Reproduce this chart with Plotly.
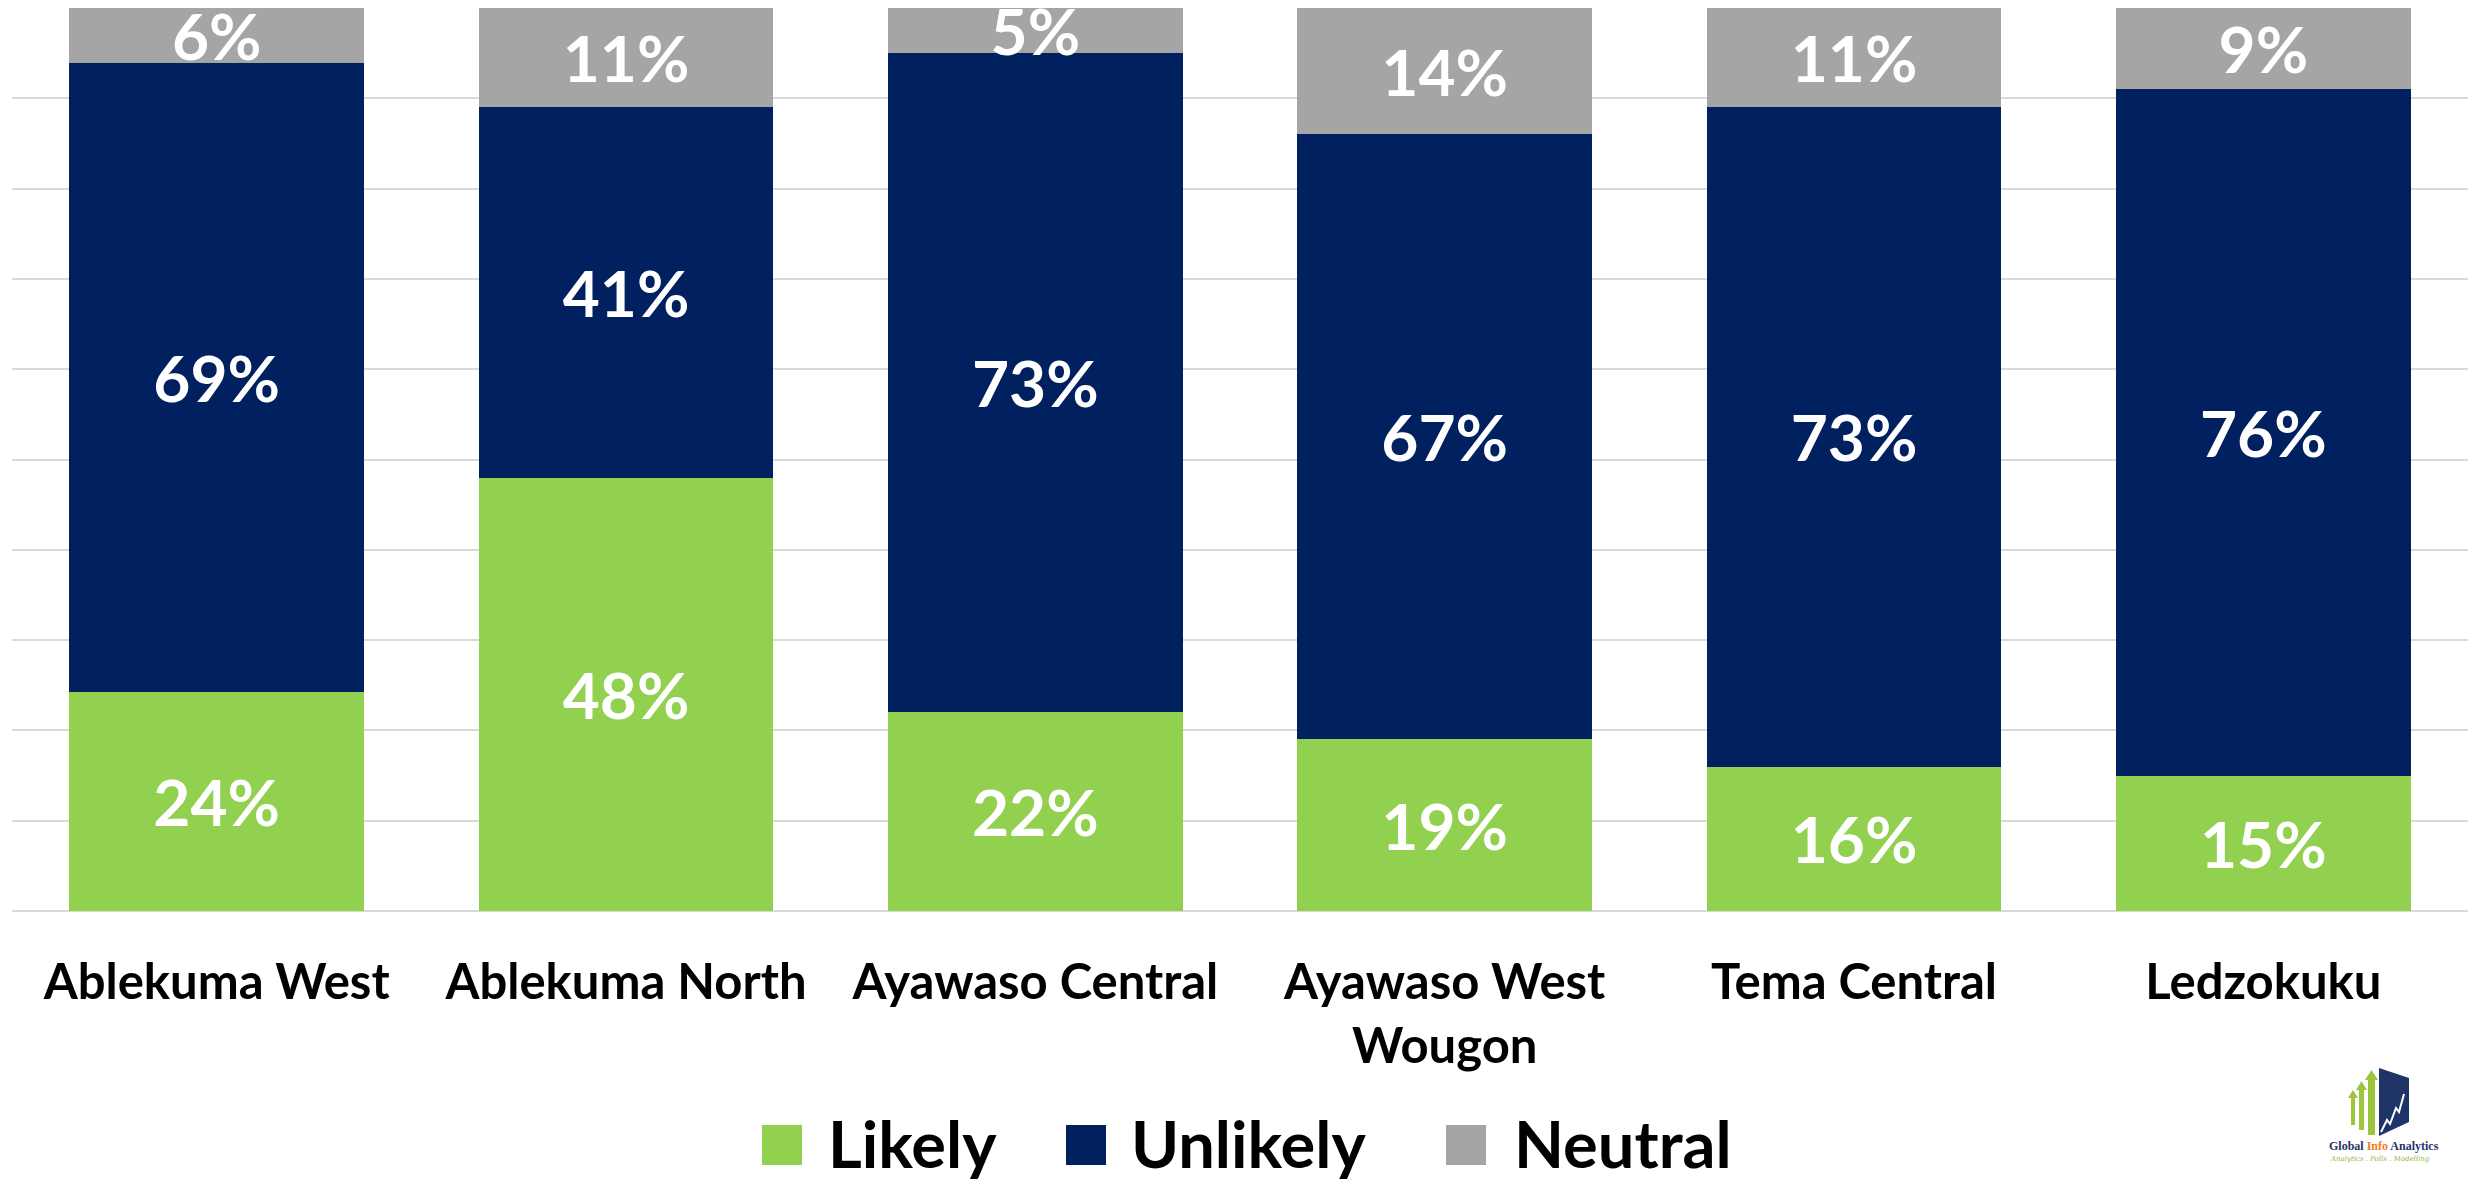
import plotly.graph_objects as go

categories = ["Ablekuma West", "Ablekuma North", "Ayawaso Central",
              "Ayawaso West<br>Wougon", "Tema Central", "Ledzokuku"]
likely = [24, 48, 22, 19, 16, 15]
unlikely = [69, 41, 73, 67, 73, 76]
neutral = [6, 11, 5, 14, 11, 9]
series_names = ["Likely", "Unlikely", "Neutral"]
colors = ["#92D050", "#002060", "#A5A5A5"]

W, H = 2468, 1179
ML, MR, MT, MB = 12, 0, 8, 268
PW, PH = W - ML - MR, H - MT - MB


def px(x):
    return (x - ML) / PW


def py(y):
    return (H - MB - y) / PH


fig = go.Figure()
for name, vals, col in zip(series_names, [likely, unlikely, neutral], colors):
    fig.add_trace(go.Bar(
        x=categories, y=vals, name=name, marker=dict(color=col, line=dict(width=0)),
        text=[f"{v}%" for v in vals], texttemplate="%{text}",
        textposition="inside", insidetextanchor="middle", constraintext="none",
        textangle=0,
        textfont=dict(family="Lato", size=64, color="white", weight=700),
        showlegend=False, hoverinfo="skip", cliponaxis=False,
    ))

shapes = []
annotations = []

# manual legend
legend_items = [(762, 826), (1066, 1129), (1446, 1512)]
for (sx, tx), name, col in zip(legend_items, series_names, colors):
    shapes.append(dict(type="rect", xref="paper", yref="paper",
                       x0=px(sx), x1=px(sx + 40), y0=py(1165), y1=py(1125),
                       fillcolor=col, line=dict(width=0)))
    annotations.append(dict(text=name, xref="paper", yref="paper", x=px(tx), y=py(1143),
                            xanchor="left", yanchor="middle", showarrow=False,
                            font=dict(family="Lato", size=65, color="black", weight=700)))

# logo graphic
green = "#9BC53D"
arrows = [(2351, 2355, 1098, 1125, 2348, 2358, 1090),
          (2359, 2364, 1090, 1130, 2356, 2367, 1081),
          (2368, 2375, 1080, 1135, 2365, 2378, 1070)]
for x0, x1, yb, ye, hx0, hx1, tip in arrows:
    path = (f"M {px(x0)} {py(ye)} L {px(x0)} {py(yb)} L {px(hx0)} {py(yb)} "
            f"L {px((hx0 + hx1) / 2)} {py(tip)} L {px(hx1)} {py(yb)} L {px(x1)} {py(yb)} "
            f"L {px(x1)} {py(ye)} Z")
    shapes.append(dict(type="path", xref="paper", yref="paper", path=path,
                       fillcolor=green, line=dict(width=0)))
trap = (f"M {px(2379)} {py(1068)} L {px(2409)} {py(1078)} L {px(2409)} {py(1122)} "
        f"L {px(2379)} {py(1136)} Z")
shapes.append(dict(type="path", xref="paper", yref="paper", path=trap,
                   fillcolor="#1F3466", line=dict(width=0)))
zig = (f"M {px(2381)} {py(1132)} L {px(2387)} {py(1120)} L {px(2390)} {py(1124)} "
       f"L {px(2396)} {py(1108)} L {px(2399)} {py(1112)} L {px(2404)} {py(1094)}")
shapes.append(dict(type="path", xref="paper", yref="paper", path=zig,
                   line=dict(color="white", width=2)))
annotations.append(dict(
    text="Global <span style='color:#F47B20'>Info</span> Analytics",
    xref="paper", yref="paper", x=px(2384), y=py(1146), xanchor="center", yanchor="middle",
    showarrow=False, font=dict(family="Liberation Serif", size=12, color="#1F3466", weight=700)))
annotations.append(dict(
    text="<i>Analytics . Polls . Modelling</i>",
    xref="paper", yref="paper", x=px(2380), y=py(1159), xanchor="center", yanchor="middle",
    showarrow=False, font=dict(family="DejaVu Serif", size=7, color="#8DB83A")))

fig.update_layout(
    width=W, height=H, barmode="stack", barnorm="percent", bargap=0.28,
    margin=dict(l=ML, r=MR, t=MT, b=MB, autoexpand=False),
    plot_bgcolor="white", paper_bgcolor="white",
    uniformtext=dict(minsize=64, mode="show"),
    shapes=shapes, annotations=annotations, showlegend=False,
)
fig.update_xaxes(showgrid=False, showline=False, ticks="", ticklabelstandoff=38,
                 tickfont=dict(family="Lato", size=49, color="black", weight=700))
fig.update_yaxes(range=[0, 100.001], tick0=0, dtick=10, showticklabels=False, showgrid=True,
                 gridcolor="#D9D9D9", gridwidth=2, zeroline=True,
                 zerolinecolor="#D9D9D9", zerolinewidth=2, showline=False)

fig.write_html("out.html", config={"displayModeBar": False},
               post_script="document.body.style.margin='0';")
